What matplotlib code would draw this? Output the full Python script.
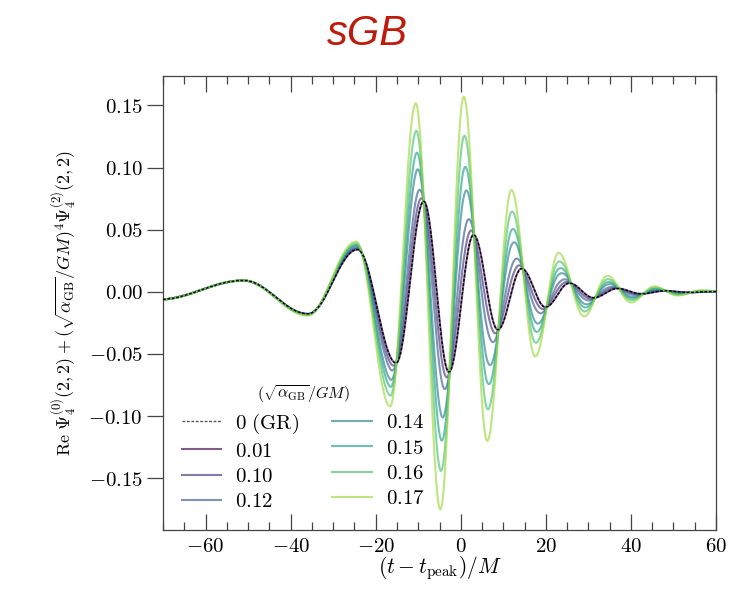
import numpy as np
import matplotlib
matplotlib.use("Agg")
import matplotlib.pyplot as plt
from matplotlib.ticker import MultipleLocator, FuncFormatter
from matplotlib.lines import Line2D

plt.rcParams['mathtext.fontset'] = 'cm'
plt.rcParams['font.family'] = ['DejaVu Serif']

# ---- data (extrema of the waveforms) ----
alphas = [0.0, 0.01, 0.10, 0.12, 0.14, 0.15, 0.16, 0.17]
alpha_labels = ['0 (GR)', '0.01', '0.10', '0.12', '0.14', '0.15', '0.16', '0.17']

# GR waveform: times and values of successive extrema
t_gr = [-71.0, -51.1, -35.9, -24.3, -15.2, -8.7, -2.8, 3.0, 8.7, 14.3, 19.9,
        25.5, 31.2, 36.8, 42.4, 48.0, 53.5, 59.0, 64.0]
y_gr = [-0.0062, 0.0091, -0.0177, 0.0340, -0.0573, 0.0728, -0.0645, 0.0458,
        -0.0305, 0.0187, -0.0123, 0.0070, -0.0048, 0.0027, -0.0016, 0.0008,
        -0.0005, 0.0002, 0.0]

# sqrt(alpha)/GM = 0.17 waveform: times and values of successive extrema
t_017 = [-71.0, -51.1, -36.0, -24.6, -16.6, -10.6, -4.8, 0.7, 6.2, 11.9, 17.5,
         23.0, 29.0, 34.5, 40.0, 45.5, 51.0, 56.5, 62.0]
y_017 = [-0.0062, 0.0091, -0.0190, 0.0404, -0.0921, 0.1516, -0.1750, 0.1570,
         -0.1200, 0.0820, -0.0520, 0.0313, -0.0198, 0.0129, -0.0086, 0.0043,
         -0.0030, 0.0012, 0.0]

x_ticks = [-60, -40, -20, 0, 20, 40, 60]
y_ticks = [-0.15, -0.10, -0.05, 0.00, 0.05, 0.10, 0.15]


def through_extrema(t, te, ye):
    """Smooth curve passing through successive extrema (half-wave segments)."""
    te = np.asarray(te); ye = np.asarray(ye)
    i = np.clip(np.searchsorted(te, t) - 1, 0, len(te) - 2)
    s = (t - te[i]) / (te[i + 1] - te[i])
    return ye[i] + (ye[i + 1] - ye[i]) * (1 - np.cos(np.pi * s)) / 2


t = np.linspace(-70, 60, 3000)
psi0 = through_extrema(t, t_gr, y_gr)
psi_ref = through_extrema(t, t_017, y_017)
psi2 = (psi_ref - psi0) / alphas[-1] ** 4   # Psi_4^(2) implied by the 0.17 curve

fig = plt.figure(figsize=(7.43, 5.98), dpi=100)
ax = fig.add_axes([0.2194, 0.1137, 0.7443, 0.7592])

cols = plt.cm.viridis(np.linspace(0, 0.85, 7))
handles = []
ax.plot(t, psi0, color='black', lw=1.0, ls=(0, (2.0, 1.2)), zorder=10)
handles.append(Line2D([], [], color='#555555', lw=1.0, ls=(0, (2.0, 1.2))))
for a, c in zip(alphas[1:], cols):
    y = psi0 + a ** 4 * psi2
    ln, = ax.plot(t, y, color=c, lw=1.5, alpha=0.65)
    handles.append(ln)

ax.set_xlim(-70, 60)
ax.set_xticks(x_ticks)
ax.set_yticks(y_ticks)
ax.xaxis.set_minor_locator(MultipleLocator(5))
ax.xaxis.set_major_formatter(FuncFormatter(lambda v, p: r'$%d$' % v))
ax.yaxis.set_major_formatter(FuncFormatter(lambda v, p: r'$%.2f$' % v))
ax.tick_params(axis='x', which='major', direction='in', top=True, bottom=True,
               length=11.5, width=0.9, color='#444444', labelsize=15, pad=5)
ax.tick_params(axis='x', which='minor', direction='in', top=True, bottom=True,
               length=5.8, width=0.9, color='#444444')
ax.tick_params(axis='y', which='major', direction='out', right=False, left=True,
               length=11.5, width=0.9, color='#444444', labelsize=15, pad=3)
for sp in ax.spines.values():
    sp.set_color('#444444')
    sp.set_linewidth(0.9)

ax.set_xlabel(r'$(t-t_{\rm peak})/M$', fontsize=15.5, labelpad=-1)
ax.set_ylabel(r'$\mathrm{Re}\ \Psi_4^{(0)}(2,2)+(\sqrt{\alpha_{\rm GB}}/GM)^4\Psi_4^{(2)}(2,2)$',
              fontsize=13, labelpad=7)

labels = [r'$0\ (\mathrm{GR})$'] + [r'$%s$' % s for s in alpha_labels[1:]]
leg = ax.legend(handles, labels, ncol=2, frameon=False, fontsize=15,
                title=r'$(\sqrt{\alpha_{\rm GB}}/GM)$', title_fontsize=11.5,
                loc='lower left', bbox_to_anchor=(0.0, 0.0),
                handlelength=1.9, handletextpad=0.65, columnspacing=1.6,
                labelspacing=0.3)

fig.text(367 / 743, 1 - 45 / 598, 'sGB', ha='center', va='baseline',
         fontsize=30, style='italic', color='#bf1a0c', family='Liberation Sans')

fig.savefig('out.png', dpi=100)
